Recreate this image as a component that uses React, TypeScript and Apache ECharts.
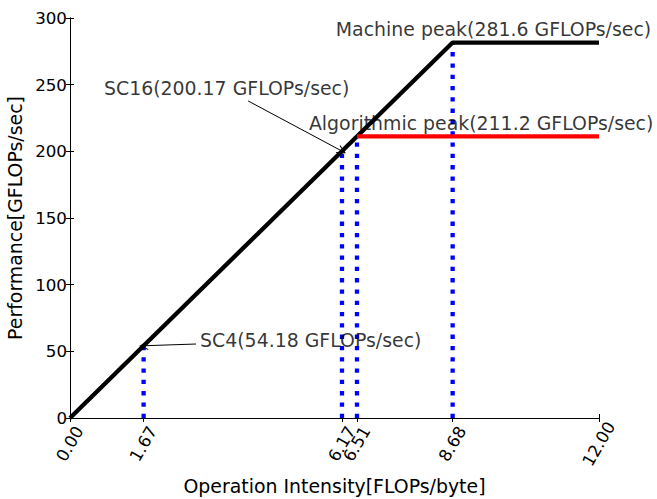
import React, { useEffect, useRef } from "react";
import * as echarts from "echarts";

// Roofline data
const roofX = [0, 8.68, 12];
const roofY = [0, 281.6, 281.6];
const algX = [6.51, 12];
const algY = [211.2, 211.2];
const dropX = [1.67, 6.17, 6.51, 8.68];
const dropY = [54.18, 200.17, 211.2, 281.6];
const xTicks = [0, 1.67, 6.17, 6.51, 8.68, 12];
const yTicks = [0, 50, 100, 150, 200, 250, 300];

// Annotations: [text, textX, textY]
const notes: [string, number, number][] = [
  ["Machine peak(281.6 GFLOPs/sec)", 6.03, 291.6],
  ["Algorithmic peak(211.2 GFLOPs/sec)", 5.42, 221.2],
  ["SC16(200.17 GFLOPs/sec)", 0.77, 247.5],
  ["SC4(54.18 GFLOPs/sec)", 2.95, 58.5],
];
// Arrows: [fromX, fromY, toX, toY]
const arrows: [number, number, number, number][] = [
  [4.04, 237.8, 6.17, 200.17],
  [2.86, 55.5, 1.67, 54.18],
];

const FONT = "DejaVu Sans";
const TICK_FS = 16.7;
const BIG_FS = 18.9;

export default function App() {
  const ref = useRef<HTMLDivElement>(null);
  useEffect(() => {
    if (!ref.current) return;
    const chart = echarts.init(ref.current, undefined, { renderer: "svg" });
    const axisLine = { show: true, lineStyle: { color: "#000", width: 1 } };
    const dropSeries = dropX.map((x, i) => ({
      type: "line",
      data: [
        [x, 0],
        [x, dropY[i]],
      ],
      showSymbol: false,
      lineStyle: { color: "#0000ff", width: 4.3, type: [4.3, 7.0], cap: "butt" },
      z: 2,
      silent: true,
    }));
    const chevron = "path://M0,10 L5,0 L10,10 L8.8,10 L5,2.4 L1.2,10 Z";
    const option: any = {
      animation: false,
      textStyle: { fontFamily: FONT },
      grid: {
        left: 70,
        right: 58,
        top: 18,
        bottom: 81,
        containLabel: false,
        outerBoundsMode: "none",
      },
      xAxis: [
        {
          type: "value",
          min: 0,
          max: 12,
          position: "bottom",
          axisLine,
          splitLine: { show: false },
          axisTick: { inside: true, length: 4, customValues: xTicks, lineStyle: { color: "#000" } },
          axisLabel: {
            customValues: xTicks,
            rotate: 60,
            align: "center",
            verticalAlign: "middle",
            margin: 26,
            fontSize: TICK_FS,
            color: "#000",
            fontFamily: FONT,
            formatter: (v: number) => v.toFixed(2),
          },
          name: "Operation Intensity[FLOPs/byte]",
          nameLocation: "middle",
          nameGap: 51,
          nameTextStyle: { fontSize: BIG_FS, color: "#000", fontFamily: FONT },
        },
        {
          type: "value",
          min: 0,
          max: 12,
          position: "top",
          axisLine,
          splitLine: { show: false },
          axisTick: { inside: true, length: 4, customValues: xTicks, lineStyle: { color: "#000" } },
          axisLabel: { show: false },
        },
      ],
      yAxis: [
        {
          type: "value",
          min: 0,
          max: 300,
          interval: 50,
          position: "left",
          axisLine,
          splitLine: { show: false },
          axisTick: { inside: true, length: 4, customValues: yTicks, lineStyle: { color: "#000" } },
          axisLabel: { fontSize: TICK_FS, color: "#000", margin: 3, fontFamily: FONT },
          name: "Performance[GFLOPs/sec]",
          nameLocation: "middle",
          nameRotate: 90,
          nameGap: 43,
          nameTextStyle: { fontSize: BIG_FS, color: "#000", fontFamily: FONT },
        },
        {
          type: "value",
          min: 0,
          max: 300,
          interval: 50,
          position: "right",
          axisLine,
          splitLine: { show: false },
          axisTick: { inside: true, length: 4, customValues: yTicks, lineStyle: { color: "#000" } },
          axisLabel: { show: false },
        },
      ],
      series: [
        ...dropSeries,
        {
          type: "line",
          data: roofX.map((x, i) => [x, roofY[i]]),
          showSymbol: false,
          lineStyle: { color: "#000", width: 4.3 },
          z: 3,
          silent: true,
        },
        {
          type: "line",
          data: algX.map((x, i) => [x, algY[i]]),
          showSymbol: false,
          lineStyle: { color: "#ff0000", width: 4.3 },
          z: 3,
          silent: true,
        },
        {
          type: "scatter",
          data: notes.map((n) => ({ value: [n[1], n[2]], name: n[0] })),
          symbolSize: 0,
          clip: false,
          z: 5,
          silent: true,
          label: {
            show: true,
            position: "right",
            distance: 0,
            formatter: (p: any) => p.name,
            fontSize: BIG_FS,
            color: "#000",
            fontFamily: FONT,
          },
          labelLayout: { hideOverlap: false },
          markLine: {
            silent: true,
            symbol: ["none", chevron],
            symbolSize: [9, 9],
            label: { show: false },
            lineStyle: { color: "#000", width: 1, type: "solid" },
            data: arrows.map((a) => [{ coord: [a[0], a[1]] }, { coord: [a[2], a[3]] }]),
          },
        },
      ],
    };
    chart.setOption(option);
    return () => chart.dispose();
  }, []);
  return (
    <div
      ref={ref}
      style={{ position: "fixed", left: 0, top: 0, width: 657, height: 499, background: "#fff" }}
    />
  );
}
